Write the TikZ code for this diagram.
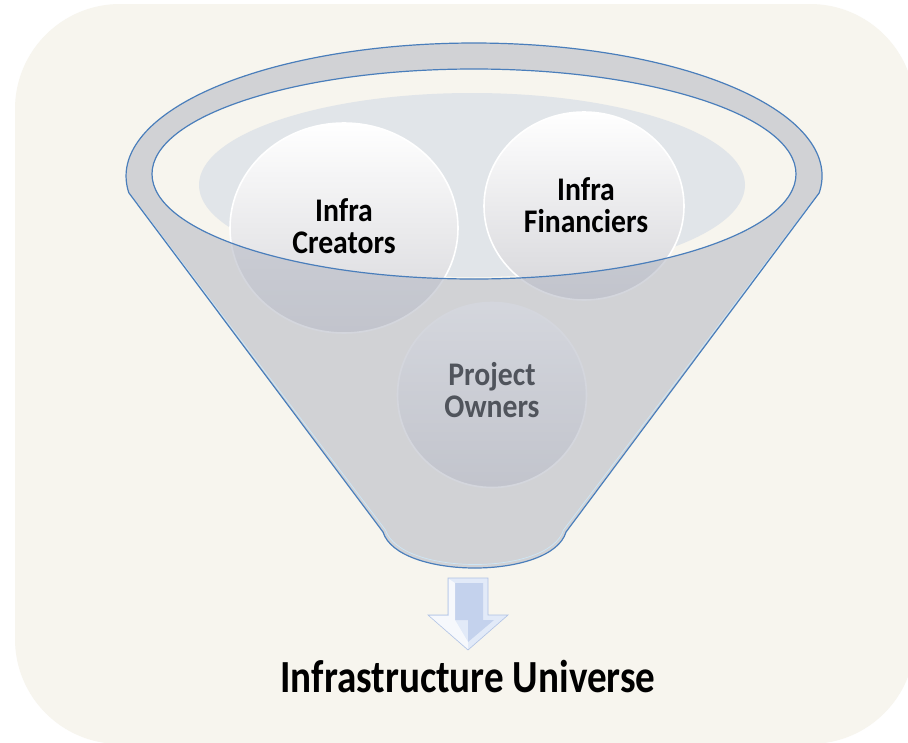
\documentclass[tikz,border=0pt]{standalone}
\usepackage{fontspec}
\setmainfont{Carlito}
\newfontfamily\bubblefont[FakeStretch=0.9]{Carlito}
\newfontfamily\capfont[FakeStretch=0.85]{Carlito}
\usetikzlibrary{shapes.geometric}
\definecolor{cream}{RGB}{247,245,238}
\definecolor{haze}{RGB}{225,229,233}
\definecolor{tint}{RGB}{178,182,194}
\definecolor{rim}{RGB}{74,126,187}
\definecolor{glint}{RGB}{205,230,246}
\definecolor{ownergray}{RGB}{80,84,92}
\definecolor{arrowlt}{RGB}{226,234,248}
\definecolor{arrowdk}{RGB}{196,210,237}
\definecolor{arrowedge}{RGB}{176,194,228}
\definecolor{bubblelow}{RGB}{214,214,218}
\begin{document}
\begin{tikzpicture}[x=1pt,y=-1pt,
    bubble/.style={ellipse,draw=white,line width=1.6pt,top color=white,bottom color=bubblelow,inner sep=0pt},
    lc/.style={font=\bubblefont\bfseries\fontsize{33}{32}\selectfont,align=center,inner sep=0pt},
    funnelpath/.style={line width=1.2pt,line join=round}]
    \useasboundingbox (0,0) rectangle (908,742);
    \fill[white] (0,0) rectangle (908,742);
    \fill[cream,rounded corners=105pt] (15,4) rectangle (915,744);
    \begin{scope}
        \clip (474,174) ellipse[x radius=322,y radius=105];
        \fill[haze] (472,185) ellipse[x radius=273,y radius=92];
    \end{scope}
    \node[bubble,minimum width=228pt,minimum height=210pt] (creators) at (344,228) {};
    \node[bubble,minimum width=200pt,minimum height=188pt] (financiers) at (584,206) {};
    \node[bubble,minimum width=189pt,minimum height=185pt] (owners) at (492,395) {};
    \fill[tint,fill opacity=0.55,even odd rule] (819.2,192.9) arc[start angle=7.3,end angle=-187.3,x radius=348,y radius=133]
        -- (383,532) .. controls (398,580) and (552,580) .. (566,532) -- cycle
        (474,174) ellipse[x radius=322,y radius=105];
    \draw[glint,line width=0.7pt] (131.5,196) -- (385.5,530) .. controls (401,576) and (549,576) .. (563.5,530) -- (816.5,196);
    \draw[rim,funnelpath] (819.2,192.9) arc[start angle=7.3,end angle=-187.3,x radius=348,y radius=133]
        -- (383,532) .. controls (398,580) and (552,580) .. (566,532) -- cycle;
    \draw[rim,funnelpath] (474,174) ellipse[x radius=322,y radius=105];
    \node[lc] (creatorsLbl) at (344,226) {Infra\\Creators};
    \node[lc] (financiersLbl) at (586,205) {Infra\\Financiers};
    \node[lc,text=ownergray] (ownersLbl) at (492,390) {Project\\Owners};
    \fill[arrowlt,draw=arrowedge,line width=0.6pt] (448,578) -- (488,578) -- (488,615) -- (508,615) -- (468,650) -- (428,615) -- (448,615) -- cycle;
    \fill[arrowdk] (455,583) -- (483,583) -- (483,620) -- (494,620) -- (468,642) -- (468,620) -- (455,620) -- cycle;
    \fill[white,fill opacity=0.7] (449,579) -- (455,583) -- (455,620) -- (468,642) -- (468,649) -- (430,616) -- (449,616) -- cycle;
    \node[font=\capfont\bfseries\fontsize{46}{50}\selectfont,anchor=base,inner sep=0pt] (universe) at (468,692) {Infrastructure Universe};
\end{tikzpicture}
\end{document}
